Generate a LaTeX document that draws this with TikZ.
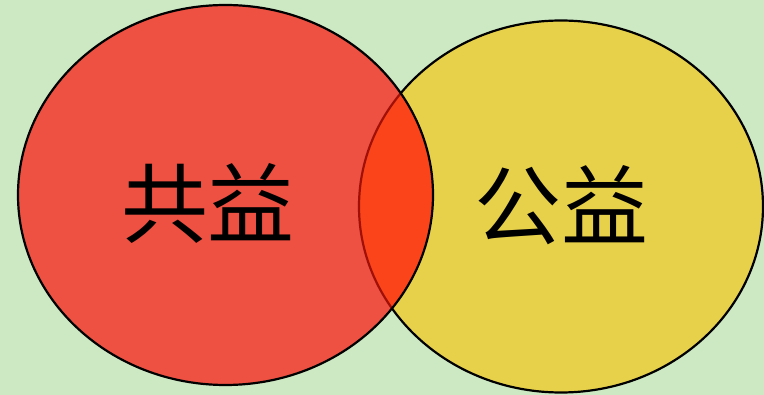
\documentclass[tikz,border=0pt]{standalone}
\usepackage{fontspec}
\newfontfamily\cjk{Noto Sans CJK SC}
\definecolor{bg}{HTML}{CCE9C4}
\definecolor{redfill}{HTML}{EE5042}
\definecolor{yelfill}{HTML}{E8D14A}
\definecolor{overfill}{HTML}{FB4419}
\definecolor{innerline}{HTML}{A01008}
\tikzset{
  lbl/.style={font=\cjk\fontsize{87}{95}\selectfont, text=black, inner sep=0pt},
  outline/.style={draw=black, line width=2.2pt}
}
\begin{document}
\begin{tikzpicture}[x=1pt,y=-1pt]
\fill[bg] (0,0) rectangle (764,395);
\useasboundingbox (0,0) rectangle (764,395);
% yellow ellipse
\path[fill=yelfill, outline] (561,206.5) ellipse [x radius=202, y radius=186];
% red ellipse
\path[fill=redfill] (225.5,195) ellipse [x radius=207.5, y radius=190];
% overlap
\begin{scope}
  \clip (225.5,195) ellipse [x radius=207.5, y radius=190];
  \fill[overfill] (561,206.5) ellipse [x radius=202, y radius=186];
  \draw[innerline, line width=2.2pt] (561,206.5) ellipse [x radius=202, y radius=186];
\end{scope}
\draw[outline] (225.5,195) ellipse [x radius=207.5, y radius=190];
\node[lbl] (gongyi1) at (208,203) {共益};
\node[lbl] (gongyi2) at (561,205) {公益};
\end{tikzpicture}
\end{document}
